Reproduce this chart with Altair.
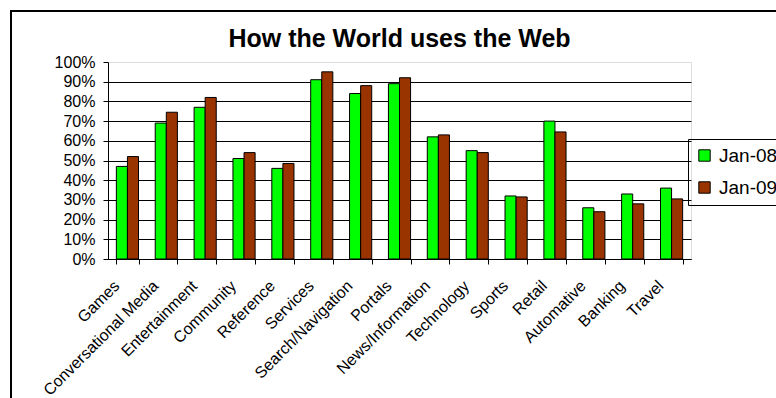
import altair as alt
import pandas as pd

categories = ["Games", "Conversational Media", "Entertainment", "Community", "Reference",
              "Services", "Search/Navigation", "Portals", "News/Information", "Technology",
              "Sports", "Retail", "Automative", "Banking", "Travel"]
jan08 = [0.47, 0.69, 0.77, 0.51, 0.46, 0.91, 0.84, 0.89, 0.62, 0.55, 0.32, 0.70, 0.26, 0.33, 0.36]
jan09 = [0.52, 0.745, 0.82, 0.54, 0.485, 0.95, 0.88, 0.92, 0.63, 0.54, 0.315, 0.645, 0.24, 0.28, 0.305]
series = ["Jan-08", "Jan-09"]
colors = ["#00FF00", "#993300"]
y_ticks = [i / 10 for i in range(11)]

rows = []
for c, a, b in zip(categories, jan08, jan09):
    rows.append({"category": c, "series": series[0], "value": a})
    rows.append({"category": c, "series": series[1], "value": b})
df = pd.DataFrame(rows)

bars = alt.Chart(df).mark_bar(stroke="black", strokeWidth=1).encode(
    x=alt.X("category:N", sort=categories,
            scale=alt.Scale(paddingInner=0.43, paddingOuter=0.215),
            axis=alt.Axis(title=None, labelAngle=-45, labelAlign="right", labelBaseline="middle",
                          labelFont="Liberation Sans", labelFontSize=16, labelColor="black",
                          labelPadding=19, labelOffset=-11,
                          tickBand="extent", tickSize=5, tickColor="black",
                          domainColor="black", grid=False)),
    xOffset=alt.XOffset("series:N", sort=series, scale=alt.Scale(paddingInner=0, paddingOuter=0)),
    y=alt.Y("value:Q", scale=alt.Scale(domain=[0, 1], nice=False),
            axis=alt.Axis(title=None, format=".0%", values=y_ticks,
                          labelFont="Liberation Sans", labelFontSize=16, labelColor="black",
                          labelPadding=8, tickSize=5, tickColor="black", domainColor="black",
                          gridColor={"condition": {"test": "datum.value >= 1", "value": "#dddddd"},
                                     "value": "black"},
                          gridWidth=1)),
    color=alt.Color("series:N", sort=series,
                    scale=alt.Scale(domain=series, range=colors),
                    legend=alt.Legend(title=None, orient="none", legendX=580, legendY=77,
                                      strokeColor="black", padding=7,
                                      symbolType="square", symbolSize=130,
                                      symbolStrokeColor="black", symbolStrokeWidth=1,
                                      labelFont="Liberation Sans", labelFontSize=19,
                                      labelColor="black", rowPadding=12, labelOffset=5)),
)

frame = alt.Chart(pd.DataFrame({"k": [0]})).mark_rect(
    fill=None, stroke="black", strokeWidth=2
).encode(
    x=alt.value(-97), x2=alt.value(800), y=alt.value(-51), y2=alt.value(500)
)

chart = alt.layer(frame, bars).properties(
    width=583, height=197,
    title=alt.Title("How the World uses the Web", font="Liberation Sans", fontSize=25,
                    fontWeight="bold", color="black", anchor="middle", offset=8, dy=50),
    padding={"left": 108, "top": 62, "right": 85, "bottom": 139},
    autosize=alt.AutoSizeParams(type="none"),
).configure_view(stroke=None).configure(background="white")

chart.save("out.html", embed_options={"renderer": "svg", "actions": False})
